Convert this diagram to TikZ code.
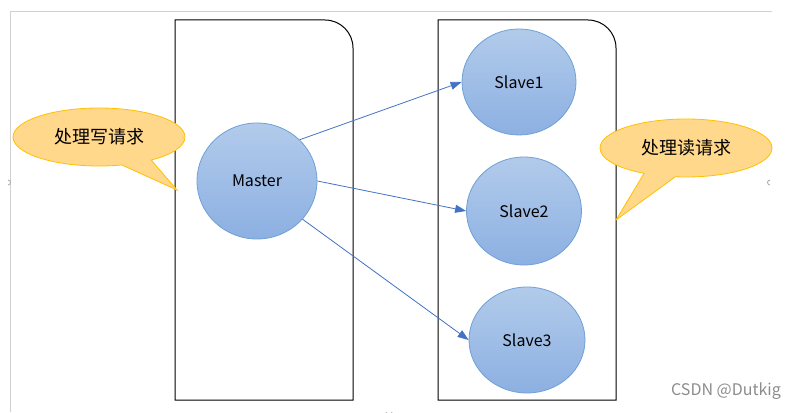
\documentclass[tikz,border=0pt]{standalone}
\usepackage{fontspec}
\setmainfont{Noto Sans CJK SC}
\usetikzlibrary{shapes.geometric,shapes.callouts,arrows.meta}
\definecolor{nodeTop}{RGB}{178,203,235}
\definecolor{nodeBot}{RGB}{140,176,226}
\definecolor{nodeLine}{RGB}{110,160,214}
\definecolor{arrowBlue}{RGB}{68,114,196}
\definecolor{noteFill}{RGB}{255,216,140}
\definecolor{noteLine}{RGB}{255,192,0}
\tikzset{
  server/.style={ellipse, draw=nodeLine, line width=0.8pt, top color=nodeTop,
    bottom color=nodeBot, inner sep=0pt, font=\fontsize{16}{19}\selectfont},
  note/.style={ellipse callout, draw=noteLine, line width=0.8pt, fill=noteFill,
    inner sep=0pt, minimum width=172pt, minimum height=58pt,
    callout pointer arc=22, font=\fontsize{18}{21}\selectfont},
  link/.style={arrowBlue, line width=0.8pt, -{Triangle[length=11pt,width=8pt]}}
}
\begin{document}
\begin{tikzpicture}[x=1pt,y=-1pt]
\useasboundingbox (0,0) rectangle (805,412);

% faint frame of the page
\draw[black!18, line width=0.8pt] (10,412) -- (10,11) -- (772,11);
\draw[black!35, line width=0.8pt] (8,185) arc (90:-90:2.5);
\draw[black!35, line width=0.8pt] (770,185) arc (90:270:2.5);
\draw[black!35, line width=0.8pt] (386,412) arc (180:0:3);

% the two groups
\draw[line width=1pt] (175,400) -- (175,20) -- (325,20) arc (-90:0:28) -- (353,400) -- cycle;
\draw[line width=1pt] (438,400) -- (438,20) -- (588,20) arc (-90:0:28) -- (616,400) -- cycle;

% servers
\node[server, minimum width=120pt, minimum height=116pt] (master) at (257,181) {Master};
\node[server, minimum width=114pt, minimum height=106pt] (slaveA) at (519,82) {Slave1};
\node[server, minimum width=115pt, minimum height=108pt] (slaveB) at (524,211) {Slave2};
\node[server, minimum width=116pt, minimum height=106pt] (slaveC) at (527,340) {Slave3};

\draw[link] (master.44) -- (slaveA.west);
\draw[link] (master.east) -- (slaveB.west);
\draw[link] (master.-40) -- (slaveC.west);

% notes
\coordinate (writeTip) at (177,190);
\coordinate (readTip) at (616,220);
\node[note, callout absolute pointer={(writeTip)}] (writeNote) at (99,137) {处理写请求};
\node[note, callout absolute pointer={(readTip)}] (readNote) at (686,148) {处理读请求};

% watermark
\node[text=black!45, font=\fontsize{16}{18}\selectfont] (mark) at (726,391) {CSDN @Dutkig};
\end{tikzpicture}
\end{document}
